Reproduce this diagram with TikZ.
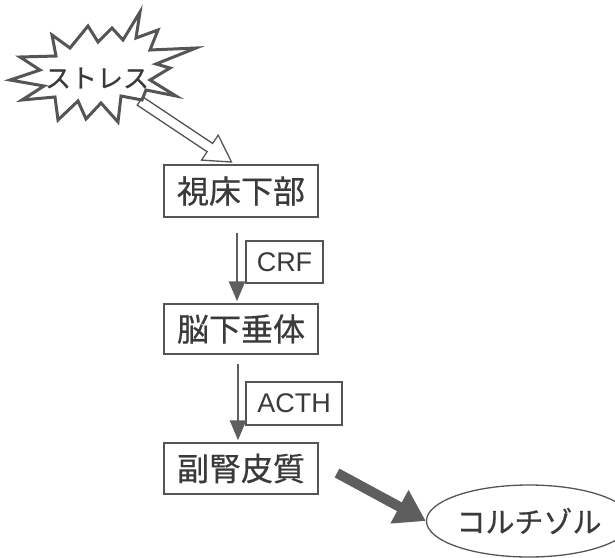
\documentclass[tikz,border=0pt]{standalone}
\usepackage{fontspec}
\setmainfont{Liberation Sans}
\newfontfamily\jp[FakeBold=0.6]{Noto Sans CJK JP}
\usetikzlibrary{arrows.meta,calc,shapes.geometric}
\definecolor{ink}{HTML}{3A3A3A}
\definecolor{edge}{HTML}{555555}
\definecolor{arr}{HTML}{5E5E5E}
\tikzset{
  organ/.style={draw=edge, line width=1.4pt, minimum width=154pt, minimum height=51pt, inner sep=0pt, font=\jp\fontsize{32pt}{32pt}\selectfont, text=ink},
  hormone/.style={draw=edge, line width=1.2pt, minimum height=42pt, inner sep=0pt, font=\fontsize{27pt}{27pt}\selectfont, text=ink},
  flow/.style={draw=arr, line width=2.6pt, -{Triangle[length=20pt,width=16pt]}},
  bigflow/.style={draw=arr, line width=10pt, -{Triangle[length=30pt,width=36pt]}},
  burst/.style={draw=edge, line width=3pt, fill=white, line join=miter},
  hollow/.style={draw=edge, line width=1.3pt, fill=white, line join=miter}
}
\begin{document}
\begin{tikzpicture}[x=1pt,y=-1pt]
\useasboundingbox (0,0) rectangle (615,557);
% hollow arrow from stress to hypothalamus
\coordinate (sa) at (140,101);
\begin{scope}[shift={(sa)}, rotate=-33.7]
  \draw[hollow] (0,-5) -- (84,-5) -- (84,-15) -- (110,0) -- (84,15) -- (84,5) -- (0,5) -- cycle;
\end{scope}
% starburst
\draw[burst] (52,35) -- (70,48) -- (88,26) -- (98,42) -- (112,28) -- (123,40) -- (140,12)
  -- (136,38) -- (158,30) -- (150,50) -- (196,48) -- (156,64) -- (170,68) -- (150,80)
  -- (176,96) -- (146,90) -- (142,100) -- (121,96) -- (118,122) -- (101,103) -- (86,119)
  -- (78,101) -- (58,120) -- (55,97) -- (22,100) -- (44,86) -- (10,80) -- (40,70)
  -- (20,57) -- (56,56) -- cycle;
\node[font=\jp\fontsize{26pt}{26pt}\selectfont, text=ink, inner sep=0pt] (stress) at (97,78) {ストレス};
% organs
\node[organ, minimum height=52pt] (hy) at (241,191) {視床下部};
\node[organ, minimum height=50pt] (pi) at (241,329) {脳下垂体};
\node[organ] (ad) at (241,468.5) {副腎皮質};
% hormones
\node[hormone, minimum width=77pt] (crf) at (284.5,262) {CRF};
\node[hormone, minimum width=96pt, minimum height=43pt] (acth) at (294,403.5) {ACTH};
% cortisol
\node[draw=edge, line width=1.3pt, ellipse, minimum width=176pt, minimum height=72pt, inner sep=0pt, font=\jp\fontsize{29pt}{29pt}\selectfont, text=ink] (co) at (529,521) {コルチゾル};
% arrows
\draw[flow] ([xshift=-4pt,yshift=-15pt]hy.south) -- ([xshift=-4pt,yshift=2pt]pi.north);
\draw[flow] ([xshift=-3pt,yshift=-9pt]pi.south) -- ([xshift=-3pt,yshift=2pt]ad.north);
\coordinate (bs) at (337,473);
\draw[bigflow] (bs) -- (co.west);
\end{tikzpicture}
\end{document}
